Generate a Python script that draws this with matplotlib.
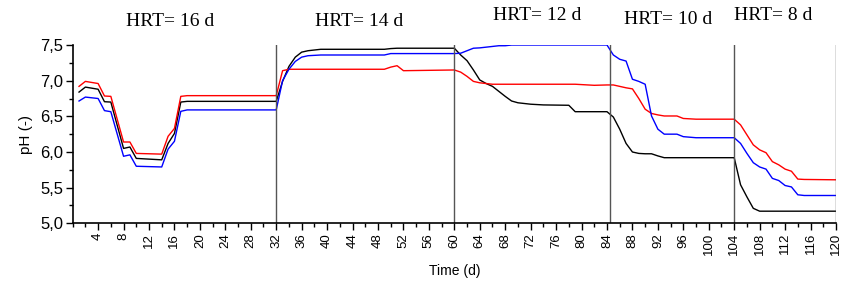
import numpy as np
import matplotlib
matplotlib.use("Agg")
from matplotlib import pyplot as plt
from matplotlib.ticker import MultipleLocator, FuncFormatter

# sampling days (shared by the three curves)
days = [1, 2, 4, 5, 6, 8, 9, 10, 14, 15, 16, 17, 18, 32,
        33, 34, 35, 36, 37, 39, 49, 50, 51, 52, 60,
        61, 62, 63, 64, 65, 66, 67, 68, 69, 70, 72, 74, 78, 79, 82, 84,
        85, 86, 87, 88, 89, 90, 91, 92, 93, 95, 96, 98, 104,
        105, 106, 107, 108, 109, 110, 111, 112, 113, 114, 115, 120]

ph_red = [6.92, 6.99, 6.96, 6.785, 6.78, 6.14, 6.14, 5.98, 5.97, 6.22, 6.33, 6.78, 6.79, 6.79,
          7.14, 7.16, 7.16, 7.16, 7.16, 7.16, 7.16, 7.19, 7.21, 7.14, 7.15,
          7.12, 7.06, 6.99, 6.97, 6.96, 6.95, 6.95, 6.95, 6.95, 6.95, 6.95, 6.95, 6.95, 6.95, 6.935, 6.94,
          6.94, 6.92, 6.90, 6.885, 6.75, 6.60, 6.54, 6.52, 6.505, 6.505, 6.47, 6.46, 6.46,
          6.38, 6.24, 6.10, 6.03, 5.99, 5.865, 5.82, 5.76, 5.73, 5.62, 5.615, 5.61]

ph_black = [6.84, 6.91, 6.88, 6.705, 6.70, 6.05, 6.07, 5.91, 5.89, 6.12, 6.26, 6.70, 6.71, 6.71,
            6.99, 7.20, 7.33, 7.40, 7.42, 7.44, 7.44, 7.45, 7.455, 7.455, 7.455,
            7.36, 7.28, 7.15, 7.01, 6.96, 6.92, 6.85, 6.78, 6.715, 6.69, 6.67, 6.66, 6.655, 6.565, 6.565, 6.565,
            6.49, 6.32, 6.12, 6.00, 5.98, 5.975, 5.975, 5.945, 5.92, 5.92, 5.92, 5.92, 5.92,
            5.54, 5.37, 5.21, 5.17, 5.17, 5.17, 5.17, 5.17, 5.17, 5.17, 5.17, 5.17]

ph_blue = [6.715, 6.77, 6.75, 6.58, 6.565, 5.94, 5.96, 5.80, 5.79, 6.04, 6.15, 6.57, 6.59, 6.59,
           7.00, 7.16, 7.27, 7.33, 7.35, 7.36, 7.36, 7.38, 7.38, 7.38, 7.38,
           7.385, 7.42, 7.455, 7.46, 7.47, 7.48, 7.49, 7.49, 7.50, 7.50, 7.50, 7.50, 7.50, 7.50, 7.50, 7.50,
           7.36, 7.30, 7.275, 7.02, 6.99, 6.95, 6.505, 6.32, 6.25, 6.25, 6.215, 6.20, 6.20,
           6.12, 5.98, 5.85, 5.79, 5.76, 5.63, 5.60, 5.53, 5.51, 5.40, 5.39, 5.39]

# HRT phase boundaries and labels
boundaries = [32, 60, 84.5, 104, 120]
hrt_labels = ["HRT= 16 d", "HRT= 14 d", "HRT= 12 d", "HRT= 10 d", "HRT= 8 d"]
hrt_x = [15.3, 45.0, 73.0, 93.6, 110.1]
hrt_y = [7.83, 7.83, 7.91, 7.86, 7.91]

plt.rcParams['font.family'] = ['Liberation Sans', 'DejaVu Sans']

fig = plt.figure(figsize=(8.44, 2.84), dpi=100)
ax = fig.add_axes([0.0861, 0.2137, 0.9044, 0.6278])

ax.plot(days, ph_black, color='black', lw=1.0)
ax.plot(days, ph_red, color='#ff0000', lw=1.0)
ax.plot(days, ph_blue, color='#0000ff', lw=1.0)

for b in boundaries:
    ax.axvline(b, color='#555555', lw=1.0)

for lbl, x, y in zip(hrt_labels, hrt_x, hrt_y):
    ax.text(x, y, lbl, ha='center', va='center', fontsize=14,
            family=['Liberation Serif', 'DejaVu Serif'], clip_on=False)

ax.set_xlim(0, 120)
ax.set_ylim(5.0, 7.5)
ax.set_xticks(np.arange(4, 121, 4))
ax.xaxis.set_minor_locator(MultipleLocator(2))
ax.yaxis.set_major_locator(MultipleLocator(0.5))
ax.yaxis.set_minor_locator(MultipleLocator(0.25))
ax.yaxis.set_major_formatter(FuncFormatter(lambda v, p: f"{v:.1f}".replace('.', ',')))
ax.tick_params(axis='x', which='major', labelsize=9.5, labelrotation=90, length=5, width=1, pad=2)
ax.tick_params(axis='y', which='major', labelsize=12, length=5, width=1, pad=2)
ax.tick_params(which='minor', length=3, width=1)

ax.spines['top'].set_visible(False)
ax.spines['right'].set_visible(False)
ax.spines['left'].set_linewidth(1.2)
ax.spines['bottom'].set_linewidth(1.2)

ax.set_xlabel("Time (d)", fontsize=10, labelpad=6)
ax.set_ylabel("pH (-)", fontsize=11, labelpad=5)

fig.savefig("out.png", dpi=100)
